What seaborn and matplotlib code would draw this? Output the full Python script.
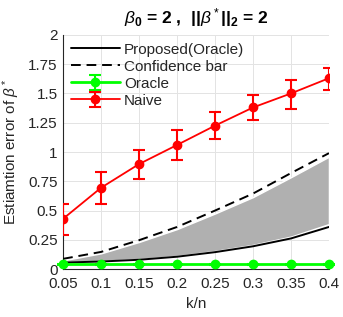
import numpy as np
import pandas as pd
import matplotlib
matplotlib.use("Agg")
import matplotlib.pyplot as plt
import seaborn as sns

sns.set_theme(style="white")
plt.rcParams['font.family'] = ['Liberation Sans', 'DejaVu Sans']
plt.rcParams['mathtext.fontset'] = 'custom'
plt.rcParams['mathtext.it'] = 'Liberation Sans:italic'
plt.rcParams['mathtext.bf'] = 'Liberation Sans:bold'
plt.rcParams['mathtext.rm'] = 'Liberation Sans'

kn = [0.05, 0.1, 0.15, 0.2, 0.25, 0.3, 0.35, 0.4]
proposed = [0.056, 0.065, 0.08, 0.106, 0.145, 0.195, 0.262, 0.36]
confidence = [0.088, 0.147, 0.247, 0.36, 0.5, 0.645, 0.82, 0.99]
band_low = [0.06, 0.07, 0.086, 0.113, 0.155, 0.207, 0.278, 0.385]
band_high = [0.075, 0.135, 0.232, 0.342, 0.475, 0.615, 0.785, 0.96]
oracle = [0.04, 0.04, 0.04, 0.04, 0.04, 0.04, 0.04, 0.04]
oracle_err = [0.004, 0.004, 0.004, 0.004, 0.004, 0.004, 0.004, 0.004]
naive = [0.43, 0.695, 0.897, 1.06, 1.225, 1.38, 1.50, 1.63]
naive_lo = [0.29, 0.56, 0.77, 0.93, 1.11, 1.27, 1.37, 1.53]
naive_hi = [0.56, 0.83, 1.02, 1.19, 1.345, 1.49, 1.615, 1.72]

xticks = [0.05, 0.1, 0.15, 0.2, 0.25, 0.3, 0.35, 0.4]
xticklabels = ["0.05", "0.1", "0.15", "0.2", "0.25", "0.3", "0.35", "0.4"]
yticks = [0, 0.25, 0.5, 0.75, 1, 1.25, 1.5, 1.75, 2]
yticklabels = ["0", "0.25", "0.5", "0.75", "1", "1.25", "1.5", "1.75", "2"]

fig = plt.figure(figsize=(3.43, 3.17), dpi=100)
ax = fig.add_axes([0.184, 0.151, 0.775, 0.739])

ax.fill_between(kn, band_low, band_high, facecolor='#b0b0b0', edgecolor='white', linewidth=1.0, zorder=2)

df = pd.DataFrame({"kn": kn, "proposed": proposed, "confidence": confidence})
sns.lineplot(data=df, x="kn", y="proposed", ax=ax, color='black', linewidth=1.4,
             label="Proposed(Oracle)", zorder=3)
sns.lineplot(data=df, x="kn", y="confidence", ax=ax, color='black', linewidth=1.4,
             linestyle=(0, (5, 3)), label="Confidence bar", zorder=3)

ax.errorbar(kn, oracle, yerr=oracle_err, color='#00ff00', marker='o', markersize=6,
            linewidth=2, capsize=4, capthick=1.5, elinewidth=1.5, label="Oracle", zorder=4,
            clip_on=False)
naive_arr = np.array(naive)
yerr = [naive_arr - np.array(naive_lo), np.array(naive_hi) - naive_arr]
ax.errorbar(kn, naive, yerr=yerr, color='red', marker='o', markersize=6,
            linewidth=1.3, capsize=4, capthick=1.5, elinewidth=1.5, label="Naive", zorder=4)

ax.set_xlim(0.05, 0.4)
ax.set_ylim(0, 2)
ax.set_xticks(xticks)
ax.set_xticklabels(xticklabels)
ax.set_yticks(yticks)
ax.set_yticklabels(yticklabels)
ax.tick_params(direction='in', length=3, labelsize=11, colors='#262626', width=0.8)
ax.tick_params(axis='x', pad=6)
ax.tick_params(axis='y', pad=4)
ax.grid(True, color='#e3e3e3', linewidth=0.7)
ax.set_axisbelow(True)
for s in ['top', 'right']:
    ax.spines[s].set_visible(False)
for s in ['left', 'bottom']:
    ax.spines[s].set_color('#262626')
    ax.spines[s].set_linewidth(0.8)

ax.set_xlabel("k/n", fontsize=11, color='#262626', labelpad=4)
ax.set_ylabel(r"Estiamtion error of $\beta^*$", fontsize=11, color='#262626', labelpad=4)
ax.set_title(r"$\it{\beta}_{\bf{0}}$ = 2 ,  ||$\it{\beta}^*$||$_{\bf{2}}$ = 2",
             fontsize=12.5, fontweight='bold', color='black', pad=8)

leg = ax.legend(loc='upper left', frameon=False, fontsize=11, handlelength=3.2,
                borderaxespad=0.1, labelspacing=0.2, handletextpad=0.3)

fig.savefig("out.png", dpi=100)
